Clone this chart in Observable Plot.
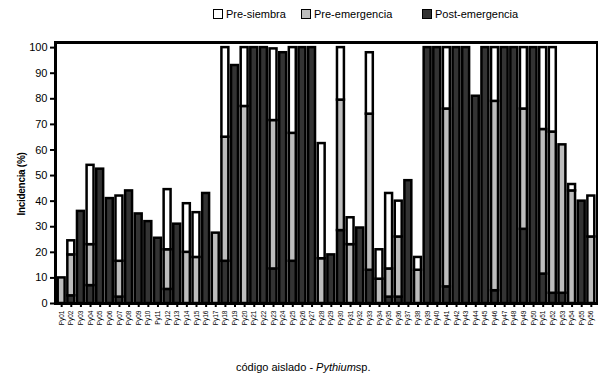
<!DOCTYPE html>
<html>
<head>
<meta charset="utf-8">
<script src="https://cdn.jsdelivr.net/npm/d3@7"></script>
<script src="https://cdn.jsdelivr.net/npm/@observablehq/plot@0.6"></script>
<style>
  body { margin: 0; background: #fff; font-family: "Liberation Sans", Arial, sans-serif; }
  #wrap { width: 598px; height: 381px; position: relative; overflow: hidden; }
  .leg { position: absolute; top: 8px; font-size: 11px; line-height: 12px; display: flex; align-items: center; color: #000; }
  .sw { width: 8px; height: 8px; border: 1.5px solid #000; margin-right: 3px; }
  #chart { position: absolute; top: 30px; left: 0; }
  #ylab { position: absolute; left: 21px; top: 184px; transform: translate(-50%, -50%) rotate(-90deg); font-size: 10px; font-weight: bold; white-space: nowrap; letter-spacing: -0.3px; }
  #cap { position: absolute; top: 361px; left: 236px; font-size: 11px; white-space: nowrap; }
</style>
</head>
<body>
<div id="wrap">
  <div id="legend"></div>
  <div id="chart"></div>
  <div id="ylab">Incidencia (%)</div>
  <div id="cap">código aislado - <i>Pythium</i>sp.</div>
</div>
<script>
const categories = ["Py01","Py02","Py03","Py04","Py05","Py06","Py07","Py08","Py09","Py10",
  "Py11","Py12","Py13","Py14","Py15","Py16","Py17","Py18","Py19","Py20",
  "Py21","Py22","Py23","Py24","Py25","Py26","Py27","Py28","Py29","Py30",
  "Py31","Py32","Py33","Py34","Py35","Py36","Py37","Py38","Py39","Py40",
  "Py41","Py42","Py43","Py44","Py45","Py46","Py47","Py48","Py49","Py50",
  "Py51","Py52","Py53","Py54","Py55","Py56"];
const seriesNames = ["Pre-siembra", "Pre-emergencia", "Post-emergencia"];
const postEmergencia = [0,3,36,7,52.5,41,2.5,44,35,32,
  25.5,5.5,31,0,0,43,0,16.5,93,0,
  100,100,13.5,98,16.5,100,100,0,19,28.5,
  0,29.5,13,0,2.5,2.5,48,0,100,100,
  6.5,100,100,81,100,5,100,100,29,100,
  11.5,4,4,0,40,0];
const preEmergencia = [10,16,0,16,0,0,14,0,0,0,
  0,15.5,0,20,18,0,27.5,48.5,0,77,
  0,0,58,0,50,0,0,17.5,0,51,
  23,0,61,9.5,11,23.5,0,13,0,0,
  69.5,0,0,0,0,74,0,0,47,0,
  56.5,63,58,44,0,26];
const preSiembra = [0,5.5,0,31,0,0,25.5,0,0,0,
  0,23.5,0,19,17.5,0,0,35,0,23,
  0,0,28,0,33.5,0,0,45,0,20.5,
  10.5,0,24,11.5,29.5,14,0,5,0,0,
  24,0,0,0,0,21,0,0,24,0,
  32,33,0,2.5,0,16];
const yTicks = [0,10,20,30,40,50,60,70,80,90,100];
const colors = ["#ffffff", "#bdbdbd", "#333333"];

// legend
const legendPos = [213, 301, 422];
const legend = document.getElementById("legend");
seriesNames.forEach((s, i) => {
  const d = document.createElement("div");
  d.className = "leg";
  d.style.left = legendPos[i] + "px";
  d.innerHTML = `<span class="sw" style="background:${colors[i]}"></span>${s}`;
  legend.appendChild(d);
});

const data = [];
categories.forEach((c, i) => {
  data.push({cat: c, serie: "Post-emergencia", v: postEmergencia[i]});
  data.push({cat: c, serie: "Pre-emergencia", v: preEmergencia[i]});
  data.push({cat: c, serie: "Pre-siembra", v: preSiembra[i]});
});
const rows = data.filter(d => d.v > 0);

const chart = Plot.plot({
  width: 598,
  height: 310,
  marginLeft: 55,
  marginRight: 1,
  marginTop: 12,
  marginBottom: 37,
  style: {fontFamily: "Liberation Sans, Arial, sans-serif", color: "#000", background: "#fff"},
  x: {domain: categories, padding: 0.28},
  y: {domain: [0, 102]},
  color: {domain: seriesNames, range: colors},
  marks: [
    Plot.barY(rows, Plot.stackY({x: "cat", y: "v", fill: "serie", stroke: "#000", strokeWidth: 2.5, order: null})),
    Plot.axisY({ticks: yTicks, tickSize: 5, tickPadding: 3, fontSize: 11, strokeWidth: 2, label: null}),
    Plot.axisX({tickSize: 4, tickPadding: 3, tickRotate: -90, fontSize: 6.5, strokeWidth: 2, label: null}),
    Plot.frame({stroke: "#000", strokeWidth: 3})
  ]
});
document.getElementById("chart").appendChild(chart);
</script>
</body>
</html>
